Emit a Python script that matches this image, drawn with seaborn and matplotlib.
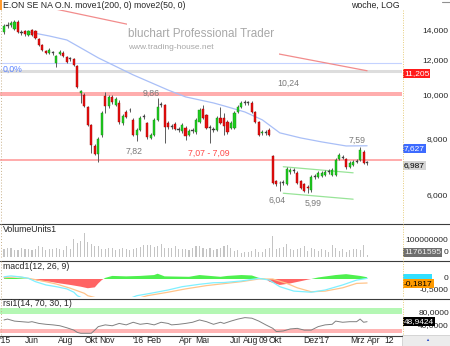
import numpy as np
import matplotlib
matplotlib.use("Agg")
import matplotlib.pyplot as plt
import matplotlib.transforms as mtransforms
from matplotlib.patches import Rectangle
from matplotlib.lines import Line2D
import seaborn as sns

sns.set_style("white")
plt.rcParams['font.family'] = ['Liberation Sans', 'DejaVu Sans']

# weekly candles E.ON, week 0 = mid April 2015
opens = [13.67, 14.12, 14.17, 13.88, 14.39, 13.67, 13.74, 13.46, 13.81, 13.74,
         13.19, 12.79, 12.40, 12.28, 12.30, 11.66, 12.21, 12.28, 12.03, 11.90,
         11.90, 11.48, 10.00, 9.90, 9.31, 8.49, 7.62, 7.31, 8.06, 9.85,
         9.36, 9.80, 9.40, 9.50, 8.57, 9.07, 9.17, 8.71, 8.06, 8.27,
         8.84, 8.57, 7.94, 8.06, 8.71, 9.40, 9.40, 8.57, 8.40, 8.53,
         8.27, 8.23, 8.36, 8.06, 8.23, 8.19, 8.62, 9.21, 8.93, 8.36,
         8.27, 8.27, 8.80, 8.80, 8.62, 8.36, 8.36, 9.07, 9.31, 9.50,
         9.52, 9.50, 9.07, 8.62, 8.15, 8.19, 8.27, 7.24, 6.37, 6.31,
         6.31, 6.28, 6.67, 6.74, 6.64, 6.37, 6.28, 6.18, 6.08, 6.51,
         6.51, 6.54, 6.57, 6.67, 6.57, 6.57, 7.13, 7.20, 7.13, 6.84,
         6.91, 7.04, 7.09, 7.39, 6.99]
highs = [14.24, 14.39, 14.45, 14.54, 14.50, 13.81, 13.81, 13.81, 13.88, 13.81,
         13.26, 12.86, 12.47, 12.60, 12.40, 12.15, 12.47, 12.40, 12.09, 12.03,
         11.97, 11.54, 10.15, 10.00, 9.36, 8.53, 7.70, 7.98, 9.10, 10.05,
         9.90, 9.90, 9.80, 9.65, 8.98, 9.17, 9.26, 8.80, 8.36, 8.89,
         8.98, 8.62, 8.15, 8.80, 9.75, 9.55, 9.45, 8.66, 8.53, 8.62,
         8.40, 8.57, 8.45, 8.32, 8.36, 8.80, 9.26, 9.40, 8.98, 8.49,
         8.40, 8.89, 9.31, 9.00, 8.71, 8.66, 9.10, 9.40, 9.60, 9.65,
         9.60, 9.60, 9.12, 8.66, 8.27, 8.27, 8.36, 7.27, 6.40, 6.37,
         6.40, 6.84, 6.81, 6.81, 6.71, 6.40, 6.31, 6.24, 6.57, 6.61,
         6.71, 6.71, 6.74, 6.78, 6.81, 7.16, 7.35, 7.27, 7.16, 7.06,
         7.09, 7.13, 7.59, 7.46, 7.06]
lows = [13.53, 13.95, 14.05, 13.81, 13.60, 13.46, 13.39, 13.39, 13.39, 13.19,
        12.73, 12.40, 12.21, 12.21, 12.15, 11.43, 12.15, 12.03, 11.66, 11.78,
        11.48, 10.26, 9.50, 9.31, 8.45, 7.35, 7.27, 7.02, 7.98, 9.03,
        9.26, 9.45, 9.36, 8.53, 8.49, 8.80, 9.07, 8.02, 7.82, 8.23,
        8.75, 7.90, 7.90, 8.02, 8.66, 9.31, 7.74, 8.32, 8.32, 8.27,
        8.19, 8.15, 7.86, 8.02, 8.15, 8.11, 8.57, 8.75, 8.32, 7.74,
        8.19, 8.23, 8.53, 8.06, 8.11, 8.32, 8.32, 9.03, 9.26, 9.42,
        9.40, 9.03, 8.57, 8.02, 8.06, 8.06, 8.02, 6.28, 6.21, 6.04,
        6.24, 6.24, 6.61, 6.64, 6.28, 6.12, 6.02, 5.99, 6.02, 6.44,
        6.47, 6.51, 6.54, 6.61, 6.54, 6.54, 7.09, 7.13, 6.78, 6.81,
        6.88, 6.99, 7.06, 6.95, 6.91]
closes = [14.10, 14.17, 14.32, 14.39, 13.67, 13.64, 13.53, 13.74, 13.46, 13.26,
          12.79, 12.47, 12.28, 12.47, 12.26, 12.09, 12.34, 12.09, 11.72, 11.93,
          11.54, 10.31, 10.10, 9.36, 8.49, 7.66, 7.31, 7.90, 9.03, 9.36,
          9.80, 9.55, 9.70, 8.62, 8.89, 8.84, 9.15, 8.06, 8.27, 8.80,
          8.86, 7.98, 8.06, 8.71, 9.31, 9.42, 8.40, 8.40, 8.42, 8.32,
          8.29, 8.49, 8.02, 8.23, 8.25, 8.71, 9.17, 8.80, 8.36, 8.38,
          8.29, 8.80, 8.57, 8.45, 8.19, 8.57, 9.03, 9.31, 9.50, 9.52,
          9.50, 9.07, 8.62, 8.06, 8.19, 8.17, 8.06, 6.31, 6.28, 6.29,
          6.33, 6.78, 6.74, 6.72, 6.31, 6.15, 6.05, 6.15, 6.51, 6.53,
          6.64, 6.64, 6.67, 6.69, 6.74, 7.09, 7.27, 7.18, 6.84, 6.99,
          7.02, 7.06, 7.46, 6.99, 6.987]
volume_mio = [48, 58, 54, 42, 42, 58, 48, 48, 44, 52,
              69, 62, 42, 52, 48, 58, 48, 42, 69, 52,
              110, 89, 100, 148, 96, 79, 69, 69, 48, 52,
              58, 54, 44, 48, 58, 52, 42, 48, 58, 64,
              73, 75, 75, 64, 69, 79, 58, 54, 58, 69,
              52, 48, 48, 42, 58, 69, 69, 58, 48, 54,
              42, 48, 58, 69, 73, 58, 37, 42, 27, 33,
              31, 37, 48, 31, 33, 48, 58, 131, 48, 58,
              64, 79, 52, 42, 48, 58, 69, 37, 58, 48,
              37, 52, 42, 33, 75, 58, 37, 52, 33, 42,
              48, 52, 42, 75, 11.76]

ma50_week = [7, 13, 18, 23, 27, 37, 47, 52, 60, 63, 69, 74, 79, 85, 91, 98, 104]
ma50_price = [13.67, 13.39, 13.12, 12.47, 11.97, 10.97, 10.15, 9.80, 9.50, 9.36,
              9.07, 8.71, 8.15, 7.94, 7.78, 7.62, 7.627]
ma200_week = [15, 35, 79, 104]
ma200_price = [15.36, 14.24, 12.20, 11.205]
channel_week = [80, 100]
channel_upper = [6.85, 6.64]
channel_lower = [5.98, 5.80]

macd_week = [0, 2, 5, 7, 9, 12, 15, 18, 20, 21, 25, 30, 35, 38, 42, 47, 51, 56, 60, 63,
             68, 73, 76, 79, 83, 88, 92, 97, 101, 104]
macd_val = [0.10, 0.14, 0.09, 0.03, -0.12, -0.27, -0.35, -0.45, -0.6, -0.76, -1.05, -1.1,
            -0.95, -0.76, -0.65, -0.5, -0.35, -0.24, -0.17, -0.16, -0.09, 0.03, -0.05,
            -0.35, -0.55, -0.6, -0.5, -0.27, -0.05, 0.03]
signal_week = [0, 4, 7, 11, 15, 19, 23, 24, 30, 38, 41, 47, 52, 58, 63, 68, 73, 77, 81, 84,
               88, 92, 97, 101, 104]
signal_val = [0.06, 0.10, 0.03, -0.09, -0.23, -0.42, -0.65, -0.76, -1.0, -0.9, -0.76, -0.6,
              -0.45, -0.3, -0.21, -0.12, 0.0, 0.0, -0.2, -0.4, -0.58, -0.55, -0.4, -0.2, -0.1817]
hist_week = [0, 2, 5, 8, 10, 13, 16, 19, 22, 24, 26, 27, 28, 29, 31, 35, 39, 43, 44, 46,
             53, 56, 59, 62, 64, 68, 71, 73, 75, 76, 79, 82, 85, 87, 88, 90, 95, 98, 102, 104]
hist_val = [0.05, 0.06, 0.03, 0.0, -0.09, -0.12, -0.2, -0.27, -0.35, -0.42, -0.38, -0.2,
            -0.05, 0.05, 0.14, 0.12, 0.14, 0.18, 0.24, 0.12, 0.1, 0.18, 0.14, 0.10, 0.14,
            0.18, 0.16, 0.05, 0.0, -0.12, -0.27, -0.2, -0.1, -0.03, 0.0, 0.07, 0.18, 0.22,
            0.14, 0.08]

rsi_week = [0, 1, 3, 5, 7, 8, 10, 12, 14, 16, 18, 20, 21, 22, 25, 26, 27, 29, 31, 33,
            35, 37, 39, 41, 43, 45, 47, 48, 50, 52, 54, 56, 58, 60, 62, 63, 65, 67, 69, 71,
            73, 75, 77, 78, 80, 82, 84, 86, 88, 90, 92, 94, 95, 97, 99, 101, 102, 103, 104]
rsi_val = [55, 58, 51, 49, 47, 49, 43, 40, 38, 35, 28, 20, 12, 9, 9, 20, 32, 38, 35, 43,
           38, 47, 40, 43, 38, 47, 43, 38, 40, 43, 47, 55, 49, 40, 47, 43, 51, 58, 63, 61,
           51, 38, 26, 15, 17, 24, 26, 20, 20, 32, 38, 40, 51, 47, 49, 49, 58, 47, 48.94]

month_pos = [0.4, 8, 17.8, 25, 29.6, 38.4, 43, 52, 56.7, 66.4, 70.6, 74.3, 77.7, 87.8, 91.8,
             101.4, 106, 110.3]
month_labels = ["'15", "Jun", "Aug", "Okt", "Nov", "'16", "Feb", "Apr", "Mai", "Jul",
                "Aug", "09", "Okt", "Dez", "'17", "Mrz", "Apr", "12"]
price_ticks = [14, 12, 10, 8, 6]

W, H = 450, 346
fig = plt.figure(figsize=(W / 100, H / 100), dpi=100)


def rect(x0, y0, x1, y1):
    return [x0 / W, 1 - y1 / H, (x1 - x0) / W, (y1 - y0) / H]


def side_text(ax, xpix, value, s, dy=0, **kw):
    tr = mtransforms.blended_transform_factory(fig.transFigure, ax.transData)
    tr = tr + mtransforms.ScaledTranslation(0, -dy / 100, fig.dpi_scale_trans)
    ax.text(xpix / W, value, s, transform=tr, va='center', clip_on=False, **kw)


def hline(y, x0, x1, **kw):
    fig.add_artist(Line2D([x0 / W, x1 / W], [1 - y / H] * 2, transform=fig.transFigure, **kw))


def vline(x, y0, y1, **kw):
    fig.add_artist(Line2D([x / W] * 2, [1 - y0 / H, 1 - y1 / H], transform=fig.transFigure, **kw))


ax_p = fig.add_axes(rect(0, 10, 402, 222))
ax_v = fig.add_axes(rect(0, 224, 402, 259))
ax_m = fig.add_axes(rect(0, 261, 402, 297))
ax_r = fig.add_axes(rect(0, 299, 402, 335))
for ax in (ax_p, ax_v, ax_m, ax_r):
    ax.set_xlim(-1.15, 114.0)
    ax.set_axis_off()

fs = 6.3
weeks = np.arange(len(closes))
o = np.array(opens)
c = np.array(closes)

# ---- price panel
ax_p.set_yscale('log')
ax_p.set_ylim(5.16, 15.30)
ax_p.axhline(11.66, color='#c4d2ff', lw=0.8, zorder=1)
ax_p.axhline(11.205, color='#dddddd', lw=2.2, zorder=1)
ax_p.axhspan(9.86, 10.05, color='#ffadad', lw=0, zorder=1)
ax_p.axhspan(7.05, 7.11, color='#ffadad', lw=0, zorder=1)

sns.lineplot(x=ma200_week, y=ma200_price, ax=ax_p, color='#f28c8c', lw=0.9, legend=False, zorder=2)
sns.lineplot(x=ma50_week, y=ma50_price, ax=ax_p, color='#a9bff7', lw=0.9, legend=False, zorder=2)
sns.lineplot(x=channel_week, y=channel_upper, ax=ax_p, color='#98e498', lw=0.9, legend=False, zorder=2)
sns.lineplot(x=channel_week, y=channel_lower, ax=ax_p, color='#98e498', lw=0.9, legend=False, zorder=2)

# white box behind the watermark hides the 200 line there
ax_p.add_patch(Rectangle((127 / W, 1 - 58 / H), 152 / W, 40 / H, transform=fig.transFigure,
                         fc='white', ec='none', zorder=2.5))

doji = np.abs(c - o) < 0.004 * o
up = c >= o
body_col = np.where(doji, '#404040', np.where(up, '#1fcc1f', '#e81010'))
edge_col = np.where(doji, '#404040', np.where(up, '#158a15', '#a00000'))
body_h = np.where(doji, o * 0.004, np.abs(c - o))
body_b = np.where(doji, (o + c) / 2 - o * 0.002, np.minimum(o, c))
ax_p.vlines(weeks, lows, highs, color='#5a5a5a', lw=0.7, zorder=3)
ax_p.bar(weeks, body_h, bottom=body_b, width=0.62, color=body_col, edgecolor=edge_col,
         linewidth=0.3, zorder=4)

grey = '#7a7a7a'
ax_p.text(42.1, 9.97, '9,86', color=grey, fontsize=fs, ha='center', va='center', zorder=5)
ax_p.text(81.4, 10.48, '10,24', color=grey, fontsize=fs, ha='center', va='center')
ax_p.text(37.2, 7.43, '7,82', color=grey, fontsize=fs, ha='center', va='center')
ax_p.text(58.7, 7.33, '7,07 - 7,09', color='#ff4a4a', fontsize=fs, ha='center', va='center')
ax_p.text(78.2, 5.77, '6,04', color=grey, fontsize=fs, ha='center', va='center')
ax_p.text(88.5, 5.68, '5,99', color=grey, fontsize=fs, ha='center', va='center')
ax_p.text(101, 7.84, '7,59', color=grey, fontsize=fs, ha='center', va='center')
ax_p.text(-0.4, 11.27, '0,0%', color='#5a82ff', fontsize=fs, ha='left', va='center')

for t in price_ticks:
    side_text(ax_p, 448, t, f'{t},000', dy=3, ha='right', fontsize=6.0)
side_text(ax_p, 404, 11.205, '11,205', dy=3, ha='left', fontsize=6.0, color='white',
          bbox=dict(boxstyle='square,pad=0.12', fc='#ff1a1a', ec='none'))
side_text(ax_p, 404, 7.627, '7,627', dy=3, ha='left', fontsize=6.0, color='white',
          bbox=dict(boxstyle='square,pad=0.12', fc='#3d6bff', ec='none'))
side_text(ax_p, 404, 6.987, '6,987', dy=3, ha='left', fontsize=6.0, color='black',
          bbox=dict(boxstyle='square,pad=0.12', fc='#d4d4d4', ec='none'))

# ---- volume panel
ax_v.set_ylim(-12.5, 206)
ax_v.bar(weeks, volume_mio, width=0.32, color='#c4c4c4', linewidth=0)
side_text(ax_v, 448, 100, '100000000', ha='right', fontsize=6.0)
side_text(ax_v, 448, 0, '0', dy=-4.5, ha='right', fontsize=6.0)
side_text(ax_v, 404, 0, '11761595', dy=-4.5, ha='left', fontsize=6.0, color='#f0f0f0',
          bbox=dict(boxstyle='square,pad=0.12', fc='#6e6e6e', ec='none'))

# ---- macd panel
ax_m.set_ylim(-0.818, 0.818)
hw = np.array(hist_week)
hv = np.array(hist_val)
ax_m.fill_between(hw, hv, 0, where=hv >= 0, interpolate=True, color='#4ef04e', lw=0)
ax_m.fill_between(hw, hv, 0, where=hv <= 0, interpolate=True, color='#ff6464', lw=0)
sns.lineplot(x=signal_week, y=signal_val, ax=ax_m, color='#ffc48a', lw=0.9, legend=False)
sns.lineplot(x=macd_week, y=macd_val, ax=ax_m, color='#7ff0ff', lw=0.9, legend=False)
ax_m.add_patch(Rectangle((403 / W, 1 - 279 / H), 29 / W, 5 / H, transform=fig.transFigure,
                         fc='#33e0ff', ec='none', clip_on=False))
side_text(ax_m, 448, 0, '0', ha='right', fontsize=6.0)
side_text(ax_m, 449, -0.5, '-0,5000', ha='right', fontsize=6.0)
side_text(ax_m, 404, -0.1817, '-0,1817', dy=1, ha='left', fontsize=6.0, color='black',
          bbox=dict(boxstyle='square,pad=0.12', fc='#ff9a00', ec='none'))

# ---- rsi panel
ax_r.set_ylim(3.1, 127.2)
ax_r.axhspan(75.5, 96.2, color='#b4f7b4', lw=0)
ax_r.axhspan(10, 23.8, color='#ffb4b4', lw=0)
sns.lineplot(x=rsi_week, y=rsi_val, ax=ax_r, color='#808080', lw=0.7, legend=False)
side_text(ax_r, 449, 80, '80,0000', ha='right', fontsize=6.0)
side_text(ax_r, 449, 40, '40,0000', dy=1.5, ha='right', fontsize=6.0)
side_text(ax_r, 404, 48.94, '48,9424', ha='left', fontsize=6.0, color='white',
          bbox=dict(boxstyle='square,pad=0.12', fc='#000000', ec='none'))

for p, lab in zip(month_pos, month_labels):
    ax_r.text(p, -0.15, lab, transform=ax_r.get_xaxis_transform(), ha='center', va='center',
              fontsize=6.2)

# ---- frame, titles, watermark
fig.text(3 / W, 1 - 5.5 / H, 'E.ON SE NA O.N. move1(200, 0) move2(50, 0)', fontsize=fs,
         ha='left', va='center')
fig.text(400 / W, 1 - 5.5 / H, 'woche, LOG', fontsize=fs, ha='right', va='center')
fig.text(3 / W, 1 - 229.5 / H, 'VolumeUnits1', fontsize=fs, ha='left', va='center')
fig.text(3 / W, 1 - 266.5 / H, 'macd1(12, 26, 9)', fontsize=fs, ha='left', va='center')
fig.text(3 / W, 1 - 304 / H, 'rsi1(14, 70, 30, 1)', fontsize=fs, ha='left', va='center')
fig.text(128 / W, 1 - 34 / H, 'bluchart Professional Trader', fontsize=8.4, color='#a8a8a8',
         ha='left', va='center')
fig.text(128 / W, 1 - 47.5 / H, 'www.trading-house.net', fontsize=6.0, color='#a8a8a8',
         ha='left', va='center')

for y in (223.5, 260.5, 298.5):
    hline(y, 0, 450, color='#3c3c3c', lw=0.8)
hline(335.5, 0, 402, color='#3c3c3c', lw=0.8)
for y0, y1 in ((10, 222), (224, 259), (261, 297), (299, 335)):
    vline(402.5, y0, y1, color='#e6cc7a', lw=0.7, ls=(0, (1, 1.5)))
    vline(0.7, y0, y1, color='#c8b088', lw=0.7, ls=(0, (1, 2)))
fig.add_artist(Rectangle((402 / W, 0), 48 / W, 11 / H, transform=fig.transFigure,
                         fc='#ececec', ec='#c8c8c8', lw=0.5))
fig.text(427 / W, 1 - 340 / H, '\u25b2', fontsize=3, color='#2a4cc8', ha='center', va='center')
fig.add_artist(Rectangle((0, 1 - 10 / H), 1.5 / W, 10 / H, transform=fig.transFigure,
                         fc='#ff9a2e', ec='none'))
hline(1.5, 442, 450, color='#909090', lw=0.8)

fig.savefig('out.png', dpi=100)
